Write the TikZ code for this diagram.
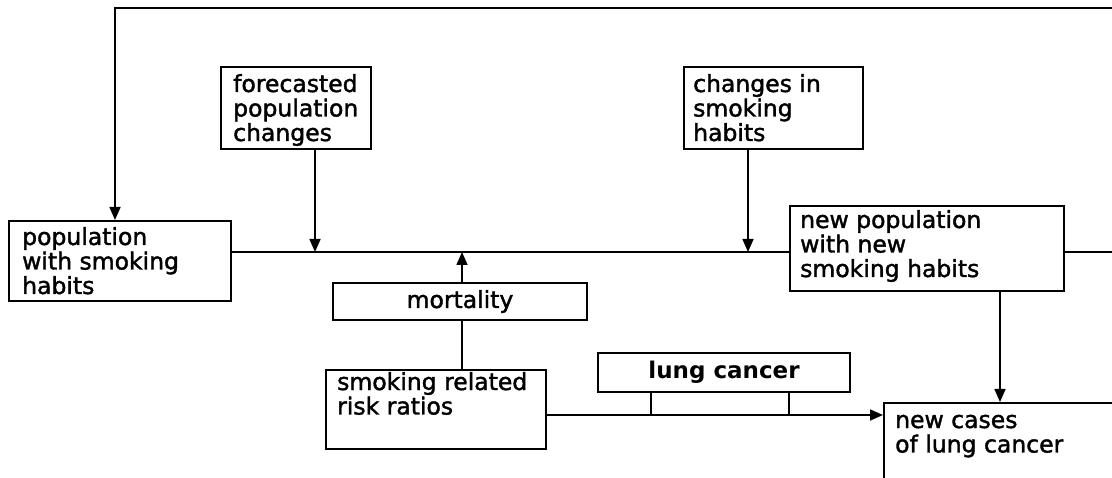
\documentclass[tikz,border=0pt]{standalone}
\usepackage{fontspec}
\setmainfont{DejaVu Sans}
\newfontfamily\dmed{DejaVu Sans}[FakeBold=1.6]
\usetikzlibrary{arrows.meta}
\begin{document}
\begin{tikzpicture}[x=1pt,y=-1pt,
 box/.style={draw,line width=1.8pt,inner sep=0pt,anchor=north west},
 txt/.style={anchor=base west,inner sep=0pt,align=left,font=\dmed\fontsize{23.5}{24.5}\selectfont},
 ln/.style={line width=1.6pt},
 arr/.style={ln,-{Triangle[length=13pt,width=11pt]}}]
\useasboundingbox (0,0) rectangle (1112,478);
\clip (0,0) rectangle (1112,478);
% boxes
\node[box,minimum width=222pt,minimum height=80pt] (pop) at (8,220) {};
\node[txt] (popt) at (22,294) {population\\with smoking\\habits};
\node[box,minimum width=150pt,minimum height=82pt] (fore) at (220,66) {};
\node[txt] (foret) at (233,141) {forecasted\\population\\changes};
\node[box,minimum width=179pt,minimum height=82pt] (chg) at (683,66) {};
\node[txt] (chgt) at (693,141) {changes in\\smoking\\habits};
\node[box,minimum width=274pt,minimum height=85pt] (newpop) at (789,205) {};
\node[txt] (newpopt) at (800,277) {new population\\with new\\smoking habits};
\node[box,minimum width=254pt,minimum height=37pt,anchor=center,font=\dmed\fontsize{23.5}{24}\selectfont] (mort) at (460,301.5) {mortality};
\node[box,minimum width=220pt,minimum height=79pt] (risk) at (325,369) {};
\node[txt] (riskt) at (337,414.5) {smoking related\\risk ratios};
\node[box,minimum width=252pt,minimum height=39pt,anchor=center,font=\fontsize{23}{24}\selectfont\bfseries] (lung) at (724,372.5) {lung cancer};
\node[box,minimum width=250pt,minimum height=100pt] (newc) at (883,402) {};
\node[txt] (newct) at (895,452.5) {new cases\\of lung cancer};
% reference coordinates
\coordinate (ml) at (0,252);
\coordinate (ll) at (0,415);
\coordinate (tl) at (115,8);
\coordinate (tr) at (1130,8);
\coordinate (fx) at (315,0);
\coordinate (cx) at (748,0);
\coordinate (mx) at (462,0);
\coordinate (lx1) at (651,0);
\coordinate (lx2) at (789,0);
\coordinate (dx) at (1000,0);
% connectors
\draw[arr] (tr) -- (tl) -- (tl |- pop.north);
\draw[ln] (pop.east |- ml) -- (newpop.west |- ml);
\draw[ln] (newpop.east |- ml) -- ++(70,0);
\draw[arr] (fx |- fore.south) -- (fx |- ml);
\draw[arr] (cx |- chg.south) -- (cx |- ml);
\draw[arr] (mx |- mort.north) -- (mx |- ml);
\draw[ln] (mx |- mort.south) -- (mx |- risk.north);
\draw[arr] (risk.east |- ll) -- (newc.west |- ll);
\draw[ln] (lx1 |- lung.south) -- (lx1 |- ll);
\draw[ln] (lx2 |- lung.south) -- (lx2 |- ll);
\draw[arr] (dx |- newpop.south) -- (dx |- newc.north);
\end{tikzpicture}
\end{document}
